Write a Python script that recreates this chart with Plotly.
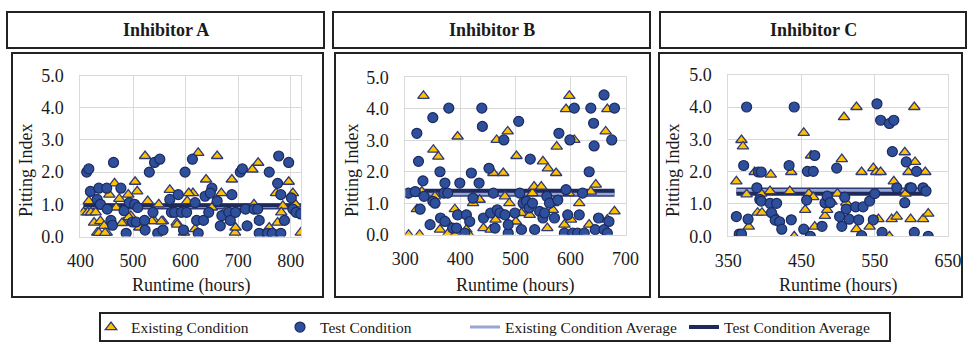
import plotly.graph_objects as go

# ---------------- data ----------------
panel_titles = ["Inhibitor A", "Inhibitor B", "Inhibitor C"]
x_title = "Runtime (hours)"
y_title = "Pitting Index"
series_names = ["Existing Condition", "Test Condition",
                "Existing Condition Average", "Test Condition Average"]

a_exist_x = [406, 414, 420, 429, 416, 426, 432, 438, 450, 445, 455, 465, 468, 474, 482, 491, 496,
             504, 508, 512, 523, 528, 541, 549, 557, 570, 583, 597, 603, 614, 624, 618, 639, 650,
             660, 668, 674, 688, 694, 695, 727, 730, 738, 759, 772, 775, 785, 782, 796, 804, 809,
             819, 435, 447, 479, 492, 536, 554, 584, 606]
a_exist_y = [0.75, 0.75, 0.75, 0.75, 1.1, 0.43, 0.12, 0.48, 0.12, 0.33, 1.3, 1.65, 0.9, 1.17, 0.43,
             1.3, 0.64, 1.7, 1.4, 0.28, 2.5, 1.1, 0.48, 1.0, 0.48, 1.45, 0.43, 0.12, 1.1, 1.35, 2.6,
             0.23, 1.77, 0.9, 2.5, 1.35, 0.75, 1.77, 0.12, 0.28, 2.08, 1.0, 2.29, 0.28, 1.35, 0.43,
             0.95, 0.75, 1.7, 1.35, 1.0, 0.12, 0.11, 0.11, 0.42, 0.6, 0.48, 0.47, 0.37, 1.35]
a_test_x = [412, 416, 419, 435, 450, 477, 463, 432, 438, 451, 458, 461, 483, 487, 493, 503, 509, 499,
            506, 522, 523, 531, 541, 551, 538, 547, 557, 570, 573, 579, 586, 592, 596, 599, 602, 613,
            618, 621, 624, 634, 637, 644, 650, 647, 660, 666, 669, 682, 685, 688, 695, 704, 708, 714,
            717, 730, 737, 740, 740, 759, 756, 765, 775, 777, 781, 781, 788, 796, 801, 804, 810, 819]
a_test_y = [2.0, 2.1, 1.4, 1.5, 1.5, 1.5, 2.3, 1.15, 1.0, 0.85, 0.5, 0.35, 0.8, 0.1, 1.05, 1.0, 0.9,
            0.45, 0.45, 0.5, 0.2, 2.0, 2.3, 2.4, 0.75, 0.1, 0.2, 1.15, 0.75, 0.75, 1.3, 0.75, 0.2, 2.0,
            0.75, 2.4, 1.05, 0.5, 0.1, 0.5, 1.25, 0.75, 1.5, 1.35, 1.1, 0.33, 0.65, 0.75, 0.5, 1.3,
            0.75, 2.0, 2.1, 0.85, 0.33, 0.85, 0.85, 0.5, 0.1, 2.0, 0.1, 0.1, 1.65, 2.5, 1.3, 0.1, 0.5,
            2.3, 1.2, 0.85, 0.75, 0.7]

b_exist_x = [306, 326, 321, 333, 330, 351, 360, 363, 378, 354, 375, 390, 390, 395, 411, 416, 423,
             435, 442, 455, 460, 466, 478, 464, 481, 486, 489, 501, 502, 511, 526, 531, 534, 547,
             550, 559, 558, 574, 575, 568, 568, 592, 598, 597, 589, 601, 607, 616, 634, 637, 646,
             664, 667, 667, 680]
b_exist_y = [0.0, 0.0, 0.81, 4.41, 1.37, 2.7, 2.48, 0.16, 0.05, 1.22, 0.42, 0.0, 0.81, 3.12, 0.16,
             0.0, 1.0, 1.11, 0.21, 0.16, 1.96, 3.01, 1.96, 0.48, 1.22, 3.28, 1.0, 0.42, 2.5, 0.69,
             0.63, 1.32, 1.53, 1.53, 2.33, 2.11, 0.21, 1.96, 2.8, 0.79, 1.0, 3.99, 4.41, 1.32, 0.32,
             0.48, 3.01, 1.0, 0.32, 1.37, 1.59, 3.28, 3.99, 0.48, 0.74]
b_test_x = [306, 318, 321, 324, 327, 332, 334, 345, 350, 354, 350, 363, 364, 372, 370, 377, 379, 372,
            386, 393, 399, 395, 408, 411, 417, 420, 423, 434, 439, 440, 442, 452, 455, 460, 463, 467,
            472, 479, 481, 487, 487, 499, 506, 508, 511, 514, 520, 525, 527, 531, 535, 544, 550, 553,
            557, 562, 571, 577, 579, 589, 592, 595, 599, 604, 607, 613, 616, 622, 625, 634, 637, 642,
            643, 645, 651, 661, 661, 667, 670, 675, 680]
b_test_y = [1.32, 1.37, 3.22, 2.33, 0.81, 1.71, 1.22, 0.32, 1.06, 1.0, 3.72, 2.0, 0.53, 1.64, 1.32,
            1.32, 4.02, 0.42, 0.21, 0.21, 1.64, 0.63, 0.05, 0.63, 0.42, 1.96, 1.16, 1.64, 4.02, 3.44,
            0.53, 2.11, 0.69, 1.32, 0.21, 0.79, 0.69, 3.01, 0.63, 0.05, 0.32, 0.69, 3.6, 1.32, 0.16,
            1.0, 1.06, 0.85, 2.4, 1.0, 0.16, 0.74, 0.53, 0.69, 1.22, 1.0, 0.53, 1.1, 3.22, 0.05, 1.43,
            0.63, 3.01, 0.05, 4.02, 0.05, 0.63, 1.32, 0.05, 2.0, 4.02, 3.54, 2.82, 0.16, 0.53, 4.44,
            0.16, 0.05, 0.42, 3.01, 4.02]

c_exist_x = [361, 363, 368, 370, 375, 378, 386, 390, 395, 396, 408, 407, 417, 434, 436, 440, 453,
             455, 460, 463, 466, 468, 482, 485, 491, 499, 505, 508, 511, 525, 525, 532, 543, 548,
             552, 555, 558, 560, 570, 573, 576, 580, 591, 592, 596, 599, 604, 605, 616, 619, 623]
c_exist_y = [1.7, 0.0, 2.98, 2.78, 1.3, 0.3, 1.99, 0.73, 1.32, 0.73, 1.91, 1.4, 0.53, 1.4, 1.99, 0.0,
             3.2, 0.82, 1.32, 2.5, 1.21, 0.3, 0.63, 0.82, 1.07, 1.32, 2.39, 3.69, 1.04, 4.0, 0.22,
             1.99, 0.3, 2.11, 1.99, 0.53, 1.99, 0.0, 0.0, 0.53, 1.7, 0.61, 2.6, 1.32, 1.99, 0.53, 4.0,
             2.3, 0.53, 1.99, 0.7]
c_test_x = [361, 365, 368, 371, 375, 377, 389, 391, 395, 393, 395, 407, 416, 409, 414, 420, 423, 433,
            436, 440, 453, 457, 458, 466, 468, 462, 478, 482, 485, 489, 498, 502, 505, 509, 511, 515,
            524, 528, 532, 534, 543, 548, 550, 553, 558, 560, 570, 576, 574, 580, 591, 593, 598, 600,
            604, 607, 616, 620, 623]
c_test_y = [0.61, 0.07, 0.07, 2.19, 4.0, 0.53, 1.5, 1.99, 1.99, 1.14, 1.09, 1.02, 1.02, 0.73, 0.5,
            0.45, 0.22, 2.19, 0.51, 4.0, 0.22, 1.12, 2.01, 2.01, 2.5, 0.0, 0.31, 1.04, 1.24, 1.04,
            2.11, 0.61, 0.31, 1.21, 0.84, 0.53, 0.91, 0.51, 0.02, 0.91, 1.09, 0.51, 1.32, 4.1, 3.59,
            0.12, 3.49, 3.59, 2.62, 1.5, 1.04, 2.3, 1.5, 1.5, 0.12, 2.01, 1.5, 1.4, 0.0]

avg_existing = [0.93, 1.30, 1.42]
avg_test = [0.97, 1.40, 1.32]

x_ranges = [[400, 820], [300, 700], [350, 650]]
x_tick0 = [400, 300, 350]

# ---------------- styling ----------------
FONT = "Liberation Serif"
TXT = "#1a1a1a"
GRID = "#d9d9d9"
CIRC_FILL = "#2E4F9C"
CIRC_LINE = "#1C2A5E"
TRI_FILL = "#FFC000"
TRI_LINE = "#2E3A78"
AVG_EX_LIGHT = "#98A6D4"
AVG_EX_DARK = "#2E3A78"
AVG_TEST = "#1F2A5C"

W, H = 971, 342


def px(x):
    return x / W


def py(y):
    return 1 - y / H


# axis domains (pixel boxes)
x_dom_px = [(80.4, 301.3), (405.3, 625.5), (728.3, 948.0)]
y_dom_px = [(236.5, 75.5), (234.7, 77.3), (236.3, 74.7)]

fig = go.Figure()

panels = [
    (a_exist_x, a_exist_y, a_test_x, a_test_y),
    (b_exist_x, b_exist_y, b_test_x, b_test_y),
    (c_exist_x, c_exist_y, c_test_x, c_test_y),
]

for i, (ex, ey, tx, ty) in enumerate(panels):
    xa = "x" if i == 0 else f"x{i+1}"
    ya = "y" if i == 0 else f"y{i+1}"
    first = i == 0
    xmin = min(min(ex), min(tx))
    xmax = max(max(ex), max(tx))

    # existing condition average (outlined light line)
    fig.add_trace(go.Scatter(
        x=[xmin, xmax], y=[avg_existing[i]] * 2, mode="lines",
        line=dict(color=AVG_EX_DARK, width=6), xaxis=xa, yaxis=ya,
        showlegend=False, hoverinfo="skip"))
    fig.add_trace(go.Scatter(
        x=[xmin, xmax], y=[avg_existing[i]] * 2, mode="lines",
        line=dict(color=AVG_EX_LIGHT, width=3), xaxis=xa, yaxis=ya,
        name=series_names[2], showlegend=first, legend="legend3"))
    # test condition average
    fig.add_trace(go.Scatter(
        x=[xmin, xmax], y=[avg_test[i]] * 2, mode="lines",
        line=dict(color=AVG_TEST, width=4), xaxis=xa, yaxis=ya,
        name=series_names[3], showlegend=first, legend="legend4"))
    # existing condition points
    fig.add_trace(go.Scatter(
        x=ex, y=ey, mode="markers", xaxis=xa, yaxis=ya,
        marker=dict(symbol="triangle-up", size=10, color=TRI_FILL,
                    line=dict(color=TRI_LINE, width=1.3)),
        name=series_names[0], showlegend=first, legend="legend"))
    # test condition points
    fig.add_trace(go.Scatter(
        x=tx, y=ty, mode="markers", xaxis=xa, yaxis=ya,
        marker=dict(symbol="circle", size=10, color=CIRC_FILL,
                    line=dict(color=CIRC_LINE, width=1.2)),
        name=series_names[1], showlegend=first, legend="legend2"))

layout = dict(
    width=W, height=H, margin=dict(l=0, r=0, t=0, b=0, autoexpand=False),
    paper_bgcolor="white", plot_bgcolor="white",
    font=dict(family=FONT, color=TXT, size=18),
)

for i in range(3):
    sfx = "" if i == 0 else str(i + 1)
    layout[f"xaxis{sfx}"] = dict(
        domain=[px(x_dom_px[i][0]), px(x_dom_px[i][1])],
        range=x_ranges[i], tick0=x_tick0[i], dtick=100, tickmode="linear",
        showgrid=True, gridcolor=GRID, gridwidth=1, zeroline=False,
        showline=True, linecolor=GRID, linewidth=1, mirror=True,
        ticks="", ticklabelstandoff=8,
        tickfont=dict(family=FONT, size=18, color=TXT),
        anchor=f"y{sfx}", fixedrange=True)
    layout[f"yaxis{sfx}"] = dict(
        domain=[py(y_dom_px[i][0]), py(y_dom_px[i][1])],
        range=[0, 5], dtick=1, tickmode="linear", tickformat=".1f",
        showgrid=True, gridcolor=GRID, gridwidth=1, zeroline=False,
        showline=True, linecolor=GRID, linewidth=1, mirror=True,
        ticks="", ticklabelstandoff=12,
        tickfont=dict(family=FONT, size=18, color=TXT),
        anchor=f"x{sfx}", fixedrange=True)

# boxes
title_boxes = [(7, 12, 324, 48), (333, 12, 650, 48), (660, 12, 966, 48)]
plot_boxes = [(12, 53, 323, 297), (335, 53, 650, 297), (659, 53, 962, 297)]
legend_box = (100, 313, 890, 341)
shapes = []
for (x0, y0, x1, y1) in title_boxes + plot_boxes + [legend_box]:
    shapes.append(dict(type="rect", xref="paper", yref="paper",
                       x0=px(x0), x1=px(x1), y0=py(y1), y1=py(y0),
                       line=dict(color="#222222", width=2), fillcolor="rgba(0,0,0,0)",
                       layer="below"))
layout["shapes"] = shapes

annotations = []
title_cx = [165.5, 491.5, 813]
xt_cx = [191, 515, 838]
yt_cx = [26, 352, 673]
for i in range(3):
    annotations.append(dict(text=f"<b>{panel_titles[i]}</b>", xref="paper", yref="paper",
                            x=px(title_cx[i]), y=py(30), showarrow=False,
                            xanchor="center", yanchor="middle",
                            font=dict(family=FONT, size=18, color=TXT)))
    annotations.append(dict(text=x_title, xref="paper", yref="paper",
                            x=px(xt_cx[i]), y=py(285.5), showarrow=False,
                            xanchor="center", yanchor="middle",
                            font=dict(family=FONT, size=18, color=TXT)))
    annotations.append(dict(text=y_title, xref="paper", yref="paper",
                            x=px(yt_cx[i]), y=py(170), showarrow=False, textangle=-90,
                            xanchor="center", yanchor="middle",
                            font=dict(family=FONT, size=18, color=TXT)))
layout["annotations"] = annotations

leg_common = dict(orientation="h", yanchor="middle", xanchor="left", y=py(327.5),
                  bgcolor="rgba(0,0,0,0)", borderwidth=0,
                  font=dict(family=FONT, size=15.5, color=TXT))
layout["legend"] = dict(x=px(91), **leg_common)
layout["legend2"] = dict(x=px(280), **leg_common)
layout["legend3"] = dict(x=px(465), **leg_common)
layout["legend4"] = dict(x=px(684), **leg_common)

fig.update_layout(**layout)
fig.write_html("out.html")
